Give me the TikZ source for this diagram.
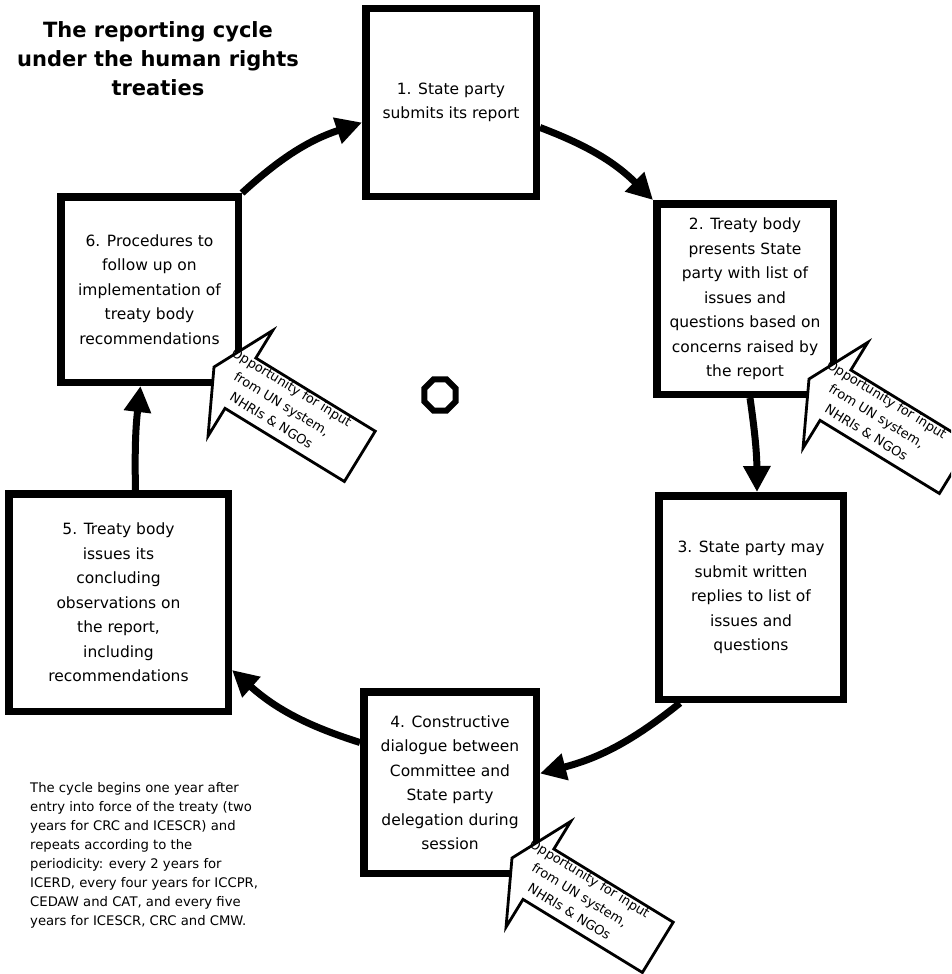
\documentclass[tikz,border=0pt]{standalone}
\usepackage{fontspec}
\setmainfont{DejaVu Sans}
\usepackage{tikz}
\usetikzlibrary{arrows.meta, calc, shapes.geometric}

\begin{document}
\begin{tikzpicture}[
    x=1pt, y=-1pt,
    stage/.style={rectangle, draw=black, line width=7.5pt, fill=white, inner sep=0pt,
                  align=center, font=\fontsize{15.5}{24.5}\selectfont},
    cycle/.style={-{Triangle[length=26pt, width=26pt]}, line width=7pt, black},
    callout/.style={draw=black, line width=2.8pt, fill=white, line join=miter},
    calltext/.style={align=center, rotate=-31.5, inner sep=0pt, font=\fontsize{13}{19.5}\selectfont},
    note/.style={align=left, inner sep=0pt, font=\fontsize{13.2}{19}\selectfont}
]
\clip (0,0) rectangle (951,974);
\node[align=center, font=\fontsize{21}{29}\selectfont\bfseries] (title) at (158,59)
    {The reporting cycle\\under the human rights\\treaties};
\node[stage, minimum width=170.5pt, minimum height=187.5pt] (b1) at (451,102.5)
    {1. State party\\submits its report};
\node[stage, minimum width=176.5pt, minimum height=190.5pt] (b2) at (745,299)
    {2. Treaty body\\presents State\\party with list of\\issues and\\questions based on\\concerns raised by\\the report};
\node[stage, minimum width=184.5pt, minimum height=203.5pt] (b3) at (751,597.5)
    {3. State party may\\submit written\\replies to list of\\issues and\\questions};
\node[stage, minimum width=172.5pt, minimum height=181.5pt] (b4) at (450,782.5)
    {4. Constructive\\dialogue between\\Committee and\\State party\\delegation during\\session};
\node[stage, minimum width=219.5pt, minimum height=217.5pt] (b5) at (118.5,602.5)
    {5. Treaty body\\issues its\\concluding\\observations on\\the report,\\including\\recommendations};
\node[stage, minimum width=177.5pt, minimum height=185.5pt] (b6) at (149.5,289.5)
    {6. Procedures to\\follow up on\\implementation of\\treaty body\\recommendations};
\node[regular polygon, regular polygon sides=8, draw, line width=6pt, minimum size=34pt,
      inner sep=0pt] (hub) at (440,395) {};
\node[note, anchor=north west] (remark) at (30,782)
    {The cycle begins one year after\\entry into force of the treaty (two\\years for CRC and ICESCR) and\\repeats according to the\\periodicity: every 2 years for\\ICERD, every four years for ICCPR,\\CEDAW and CAT, and every five\\years for ICESCR, CRC and CMW.};
\draw[cycle] (b6.north east) to[bend left=12] ($(b1.west)+(0,20)$);
\draw[cycle] ($(b1.east)+(0,25)$) to[bend left=12] (b2.north west);
\draw[cycle] ($(b2.south)+(5,0)$) to[bend left=4] ($(b3.north)+(6,0)$);
\draw[cycle] ($(b3.south west)+(25,0)$) to[bend left=12] ($(b4.east)+(0,-9)$);
\draw[cycle] ($(b4.west)+(0,-40)$) to[bend left=12] ($(b5.south east)+(0,-45)$);
\draw[cycle] ($(b5.north)+(17,0)$) to[bend left=4] ($(b6.south)+(-9,0)$);
\foreach \n in {2,4,6} {
  \coordinate (tip\n) at ($(b\n.south east)+(-28,-19)$);
  \begin{scope}[shift={(tip\n)}, rotate=-31.5]
    \draw[callout] (0,0) -- (31,-62) -- (31,-29.5) -- (171,-29.5) -- (171,29.5)
        -- (31,29.5) -- (31,62) -- cycle;
    \node[calltext] (input\n) at (77,-4) {Opportunity for input\\from UN system,\\NHRIs \& NGOs};
  \end{scope}
}
\end{tikzpicture}
\end{document}
